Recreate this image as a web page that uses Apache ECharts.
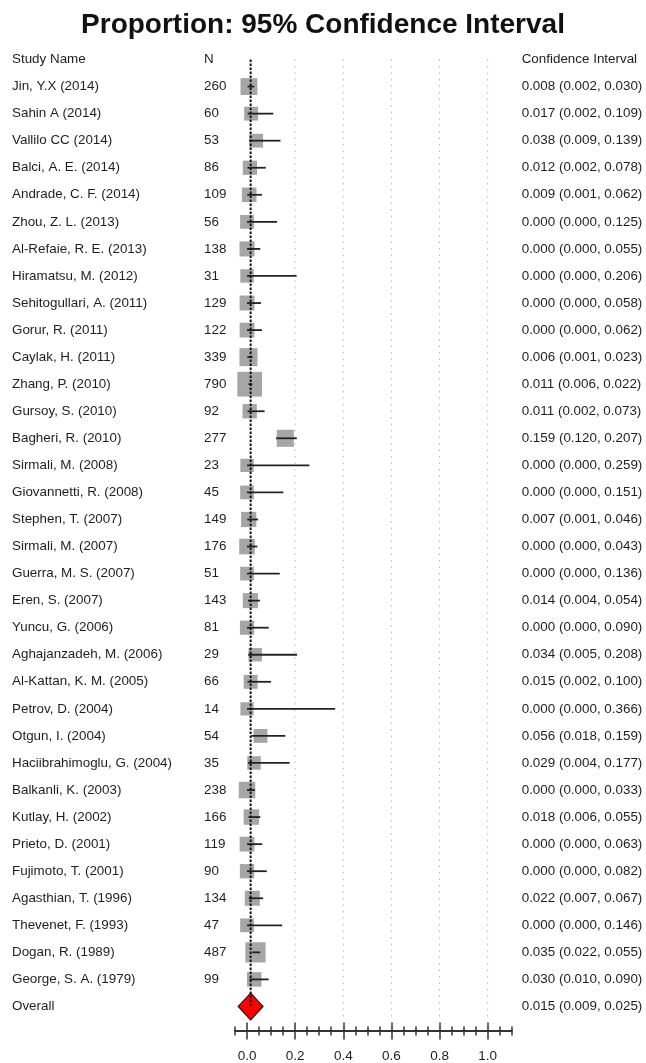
<!DOCTYPE html>
<html>
<head>
<meta charset="utf-8">
<script src="https://cdn.jsdelivr.net/npm/echarts@6/dist/echarts.min.js"></script>
<style>
  html, body { margin: 0; padding: 0; background: #ffffff; }
  #chart { width: 646px; height: 1063px; }
</style>
</head>
<body>
<div id="chart"></div>
<script>
const chartTitle = 'Proportion: 95% Confidence Interval';
const headers = ['Study Name', 'N', 'Confidence Interval'];
const studies = [
  'Jin, Y.X (2014)', 'Sahin A (2014)', 'Vallilo CC (2014)', 'Balci, A. E. (2014)',
  'Andrade, C. F. (2014)', 'Zhou, Z. L. (2013)', 'Al-Refaie, R. E. (2013)', 'Hiramatsu, M. (2012)',
  'Sehitogullari, A. (2011)', 'Gorur, R. (2011)', 'Caylak, H. (2011)', 'Zhang, P. (2010)',
  'Gursoy, S. (2010)', 'Bagheri, R. (2010)', 'Sirmali, M. (2008)', 'Giovannetti, R. (2008)',
  'Stephen, T. (2007)', 'Sirmali, M. (2007)', 'Guerra, M. S. (2007)', 'Eren, S. (2007)',
  'Yuncu, G. (2006)', 'Aghajanzadeh, M. (2006)', 'Al-Kattan, K. M. (2005)', 'Petrov, D. (2004)',
  'Otgun, I. (2004)', 'Haciibrahimoglu, G. (2004)', 'Balkanli, K. (2003)', 'Kutlay, H. (2002)',
  'Prieto, D. (2001)', 'Fujimoto, T. (2001)', 'Agasthian, T. (1996)', 'Thevenet, F. (1993)',
  'Dogan, R. (1989)', 'George, S. A. (1979)'
];
const sampleN = [260, 60, 53, 86, 109, 56, 138, 31, 129, 122, 339, 790, 92, 277, 23, 45, 149, 176, 51, 143, 81, 29, 66, 14, 54, 35, 238, 166, 119, 90, 134, 47, 487, 99];
const estimate = [0.008, 0.017, 0.038, 0.012, 0.009, 0.000, 0.000, 0.000, 0.000, 0.000, 0.006, 0.011, 0.011, 0.159, 0.000, 0.000, 0.007, 0.000, 0.000, 0.014, 0.000, 0.034, 0.015, 0.000, 0.056, 0.029, 0.000, 0.018, 0.000, 0.000, 0.022, 0.000, 0.035, 0.030];
const lower = [0.002, 0.002, 0.009, 0.002, 0.001, 0.000, 0.000, 0.000, 0.000, 0.000, 0.001, 0.006, 0.002, 0.120, 0.000, 0.000, 0.001, 0.000, 0.000, 0.004, 0.000, 0.005, 0.002, 0.000, 0.018, 0.004, 0.000, 0.006, 0.000, 0.000, 0.007, 0.000, 0.022, 0.010];
const upper = [0.030, 0.109, 0.139, 0.078, 0.062, 0.125, 0.055, 0.206, 0.058, 0.062, 0.023, 0.022, 0.073, 0.207, 0.259, 0.151, 0.046, 0.043, 0.136, 0.054, 0.090, 0.208, 0.100, 0.366, 0.159, 0.177, 0.033, 0.055, 0.063, 0.082, 0.067, 0.146, 0.055, 0.090];
const overallLabel = 'Overall';
const overallEst = 0.015;
const overallLower = 0.009;
const overallUpper = 0.025;
const majorTicks = [0.0, 0.2, 0.4, 0.6, 0.8, 1.0];
const minorTicks = [-0.05, 0.05, 0.1, 0.15, 0.25, 0.3, 0.35, 0.45, 0.5, 0.55, 0.65, 0.7, 0.75, 0.85, 0.9, 0.95, 1.05, 1.1];
const gridValues = [0.2, 0.4, 0.6, 0.8, 1.0];

const fmtCI = (e, l, u) => e.toFixed(3) + ' (' + l.toFixed(3) + ', ' + u.toFixed(3) + ')';
const rowNames = [headers[0]].concat(studies, [overallLabel]);
const rowN = [headers[1]].concat(sampleN.map(String), ['']);
const rowCI = [headers[2]].concat(estimate.map((e, i) => fmtCI(e, lower[i], upper[i])), [fmtCI(overallEst, overallLower, overallUpper)]);
const lastRow = rowNames.length - 1;

const FONT = '"Liberation Sans", Arial, sans-serif';
const textColor = '#1e1e1e';
const labelSize = 13.4;

const chart = echarts.init(document.getElementById('chart'), null, { renderer: 'canvas' });

function xAxisBase(extra) {
  return Object.assign({
    type: 'value', gridIndex: 0, position: 'bottom', offset: 11,
    min: -0.05, max: 1.1,
    splitLine: { show: false },
    axisLine: { show: true, lineStyle: { color: '#333', width: 1.5 } },
    axisLabel: { show: false },
    minorTick: { show: false }
  }, extra);
}

const option = {
  backgroundColor: '#ffffff',
  animation: false,
  title: {
    text: chartTitle, left: 'center', top: 6,
    textStyle: { fontFamily: FONT, fontSize: 28, fontWeight: 'bold', color: '#111' }
  },
  grid: { left: 235, right: 134.3, top: 46, bottom: 41.8, containLabel: false },
  xAxis: [
    xAxisBase({
      axisTick: { show: true, customValues: majorTicks, length: 8.5, lineStyle: { color: '#333', width: 1.5 } },
      axisLabel: {
        show: true, customValues: majorTicks, margin: 18,
        formatter: v => Number(v).toFixed(1),
        fontFamily: FONT, fontSize: 13.5, color: textColor
      }
    }),
    xAxisBase({
      axisTick: { show: true, inside: true, customValues: majorTicks, length: 8.5, lineStyle: { color: '#333', width: 1.5 } }
    }),
    xAxisBase({
      axisTick: { show: true, customValues: minorTicks, length: 4.5, lineStyle: { color: '#333', width: 1.5 } }
    }),
    xAxisBase({
      axisTick: { show: true, inside: true, customValues: minorTicks, length: 4.5, lineStyle: { color: '#333', width: 1.5 } }
    })
  ],
  yAxis: [
    {
      type: 'category', inverse: true, data: rowNames, position: 'left',
      axisLine: { show: false }, axisTick: { show: false }, splitLine: { show: false },
      axisLabel: { align: 'left', margin: 223, fontFamily: FONT, fontSize: labelSize, color: textColor, interval: 0 }
    },
    {
      type: 'category', inverse: true, data: rowN, position: 'left',
      axisLine: { show: false }, axisTick: { show: false }, splitLine: { show: false },
      axisLabel: { align: 'left', margin: 31, fontFamily: FONT, fontSize: labelSize, color: textColor, interval: 0 }
    },
    {
      type: 'category', inverse: true, data: rowCI, position: 'right',
      axisLine: { show: false }, axisTick: { show: false }, splitLine: { show: false },
      axisLabel: { align: 'left', margin: 10, fontFamily: FONT, fontSize: labelSize, color: textColor, interval: 0 }
    }
  ],
  series: [
    {
      name: 'grid', type: 'custom', xAxisIndex: 0, yAxisIndex: 0, silent: true, z: 1,
      data: gridValues.map(v => [v, 0, lastRow]),
      encode: { x: 0, y: [1, 2] },
      renderItem: function (params, api) {
        const top = api.coord([api.value(0), api.value(1)]);
        const bot = api.coord([api.value(0), api.value(2)]);
        const band = api.size([0, 1])[1];
        return {
          type: 'line',
          shape: { x1: top[0], y1: top[1], x2: bot[0], y2: bot[1] + band * 0.57 },
          style: { stroke: '#b8b8b8', lineWidth: 1, lineDash: [1.5, 5] }
        };
      }
    },
    {
      name: 'weights', type: 'scatter', xAxisIndex: 0, yAxisIndex: 0, silent: true, z: 2,
      data: studies.map((s, i) => [estimate[i], i + 1, sampleN[i]]),
      symbol: 'rect',
      symbolSize: v => 13 + 0.0148 * v[2],
      itemStyle: { color: '#a6a6a6', opacity: 1 }
    },
    {
      name: 'ci', type: 'custom', xAxisIndex: 0, yAxisIndex: 0, silent: true, z: 3,
      data: studies.map((s, i) => [lower[i], upper[i], i + 1]),
      encode: { x: [0, 1], y: 2 },
      renderItem: function (params, api) {
        const p1 = api.coord([api.value(0), api.value(2)]);
        const p2 = api.coord([api.value(1), api.value(2)]);
        return {
          type: 'line',
          shape: { x1: p1[0], y1: p1[1], x2: p2[0], y2: p2[1] },
          style: { stroke: '#222', lineWidth: 1.8 }
        };
      }
    },
    {
      name: 'overall', type: 'scatter', xAxisIndex: 0, yAxisIndex: 0, silent: true, z: 4,
      data: [[overallEst, lastRow]],
      symbol: 'diamond', symbolSize: [25, 27],
      itemStyle: { color: '#ff0000', borderColor: '#111', borderWidth: 1, opacity: 1 }
    },
    {
      name: 'ref', type: 'custom', xAxisIndex: 0, yAxisIndex: 0, silent: true, z: 5,
      data: [[overallEst, 0, lastRow]],
      encode: { x: 0, y: [1, 2] },
      renderItem: function (params, api) {
        const top = api.coord([api.value(0), api.value(1)]);
        const bot = api.coord([api.value(0), api.value(2)]);
        return {
          type: 'line',
          shape: { x1: top[0], y1: top[1], x2: bot[0], y2: bot[1] },
          style: { stroke: '#111', lineWidth: 2, lineDash: [2.5, 1.5] }
        };
      }
    }
  ]
};
chart.setOption(option);
</script>
</body>
</html>
